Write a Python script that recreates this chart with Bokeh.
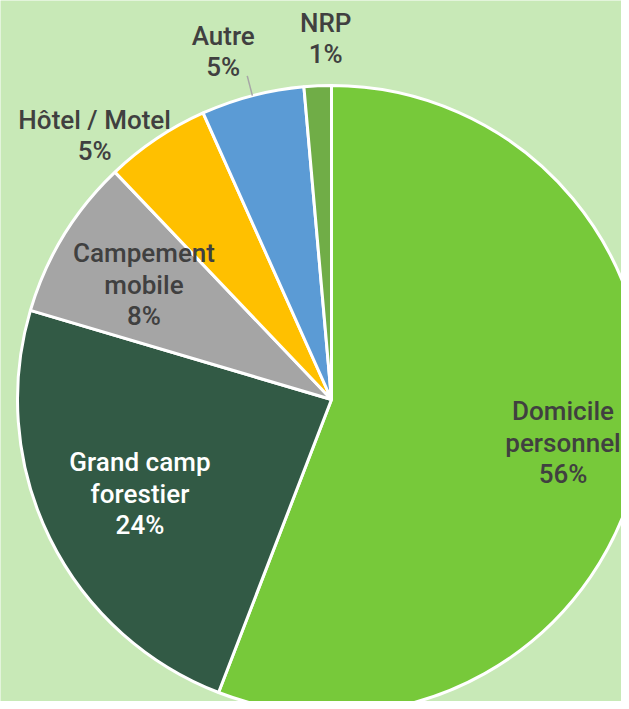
import math
from bokeh.plotting import figure
from bokeh.models import Range1d, ColumnDataSource
from bokeh.core.properties import value
from bokeh.embed import file_html
from bokeh.resources import INLINE

# ---- data ----
categories = ["Domicile personnel", "Grand camp forestier", "Campement mobile",
              "Hôtel / Motel", "Autre", "NRP"]
label_text = ["Domicile\npersonnel", "Grand camp\nforestier", "Campement\nmobile",
              "Hôtel / Motel", "Autre", "NRP"]
shares = [55.8, 23.7, 8.3, 5.4, 5.3, 1.4]
colors = ["#77C93A", "#325A45", "#A5A5A5", "#FFC000", "#5B9BD5", "#70AD47"]
text_colors = ["#404040", "#FFFFFF", "#404040", "#404040", "#404040", "#404040"]

# ---- layout ----
W, H = 621, 701
cx_px, cy_px, R_px = 331, 399, 314        # pie centre / radius in figure pixels
BG = "#C8E9B7"
# label anchor: (radius factor, angle offset in degrees, clockwise from slice mid)
label_layout = [(0.75, 0.0), (0.68, 0.0), (0.70, 0.0), (1.13, -8.0), (1.16, -2.7), (1.15, 1.6)]

total = sum(shares)
starts, ends, mids = [], [], []
acc = 0.0
for v in shares:
    a0 = acc / total * 2 * math.pi
    acc += v
    a1 = acc / total * 2 * math.pi
    starts.append(math.pi / 2 - a0)
    ends.append(math.pi / 2 - a1)
    mids.append((a0 + a1) / 2)   # clockwise from top

pct = [f"{round(v):d}%" for v in shares]
texts = [f"{t}\n{p}" for t, p in zip(label_text, pct)]

lx, ly = [], []
for m, (rf, da) in zip(mids, label_layout):
    a = m + math.radians(da)
    lx.append(rf * math.sin(a))
    ly.append(rf * math.cos(a))

p = figure(width=W, height=H, output_backend="svg", toolbar_location=None,
           x_range=Range1d(-cx_px / R_px, (W - cx_px) / R_px),
           y_range=Range1d(-(H - cy_px) / R_px, cy_px / R_px),
           min_border=0, outline_line_color=None,
           background_fill_color=BG, border_fill_color=BG)
p.axis.visible = False
p.grid.visible = False

src = ColumnDataSource(dict(cat=categories, start=starts, end=ends, color=colors))
p.wedge(x=0, y=0, radius=1.0, start_angle="start", end_angle="end", direction="clock",
        fill_color="color", line_color="white", line_width=3, source=src)

# leader line for "Autre"
ia = categories.index("Autre")
ma = mids[ia]
p.line([1.0 * math.sin(ma), 1.065 * math.sin(ma)], [1.0 * math.cos(ma), 1.065 * math.cos(ma)],
       line_color="#A6A6A6", line_width=1.5)

lsrc = ColumnDataSource(dict(x=lx, y=ly, t=texts, c=text_colors))
p.text(x="x", y="y", text="t", text_color="c", source=lsrc,
       text_font=value("Roboto Medium, Roboto"), text_font_size="26px",
       text_align="center", text_baseline="middle", text_line_height=1.05)

open("out.html", "w").write(file_html(p, INLINE))
